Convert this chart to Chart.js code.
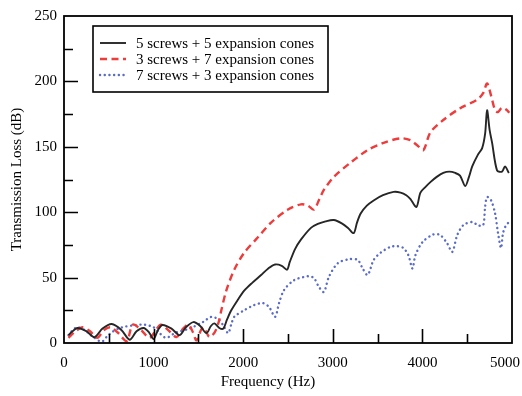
<!DOCTYPE html>
<html>
<head>
<meta charset="utf-8">
<script src="https://cdn.jsdelivr.net/npm/chart.js@4/dist/chart.umd.min.js"></script>
<style>
  html, body { margin: 0; padding: 0; background: #fff; }
  #wrap { width: 522px; height: 396px; }
</style>
</head>
<body>
<div id="wrap"><canvas id="c" width="522" height="396"></canvas></div>
<script>
// Transmission loss spectra for three fastening configurations
const seriesLabels = [
  '5 screws + 5 expansion cones',
  '3 screws + 7 expansion cones',
  '7 screws + 3 expansion cones'
];
const xTitle = 'Frequency (Hz)';
const yTitle = 'Transmission Loss (dB)';

// 5 screws + 5 expansion cones
const freq5x5 = [50, 80, 150, 250, 340, 430, 533, 640, 733, 810, 889, 950, 1000, 1050, 1100, 1200, 1289, 1360, 1444, 1520, 1589, 1640, 1678, 1733, 1778, 1820, 1867, 1940, 2011, 2100, 2200, 2280, 2356, 2430, 2489, 2520, 2580, 2644, 2756, 2833, 2920, 3011, 3100, 3170, 3233, 3270, 3311, 3380, 3456, 3560, 3678, 3756, 3820, 3867, 3933, 3978, 4030, 4089, 4160, 4233, 4300, 4367, 4420, 4478, 4520, 4556, 4620, 4667, 4700, 4722, 4750, 4778, 4833, 4889, 4922, 4965];
const loss5x5 = [6, 8, 11.5, 9, 4.5, 11, 14.5, 10, 2.5, 9, 11.5, 8, 3, 10, 13.8, 11, 6, 12, 16, 13, 7.6, 13, 15, 11.5, 11, 18, 25, 33, 40, 46, 52, 57, 60, 59, 56, 62, 72, 79, 88, 91, 93, 94, 91.5, 88, 84, 92, 99, 105, 109, 113, 115.5, 115, 113, 110, 104, 115, 119, 123, 127, 130, 131, 130, 128, 120, 127, 135, 144, 149, 160, 178, 163, 153, 132, 131, 135, 130];

// 3 screws + 7 expansion cones
const freq3x7 = [50, 130, 210, 290, 370, 450, 520, 600, 700, 767, 860, 956, 1078, 1160, 1256, 1330, 1389, 1440, 1478, 1530, 1560, 1622, 1680, 1722, 1756, 1811, 1900, 2011, 2167, 2311, 2500, 2644, 2722, 2789, 2850, 2900, 3011, 3200, 3389, 3567, 3756, 3867, 3944, 4011, 4089, 4233, 4422, 4611, 4678, 4722, 4767, 4811, 4844, 4889, 4944, 4970];
const loss3x7 = [4, 9, 12, 9, 4, 10, 12, 8, 1.5, 14, 10, 4, 14, 10, 4.6, 11, 14, 8, 2, 10, 12, 4.6, 8, 15, 25, 40, 56, 69, 81, 92, 102, 106, 105, 102, 110, 117, 127, 138, 147.5, 153, 156.5, 155, 151, 147.5, 161, 170.5, 179.5, 186, 191, 198.5, 189, 178, 176.6, 180, 178, 176];

// 7 screws + 3 expansion cones
const freq7x3 = [50, 100, 150, 230, 300, 420, 480, 550, 650, 780, 900, 1000, 1060, 1140, 1250, 1400, 1550, 1644, 1733, 1789, 1833, 1870, 1900, 2011, 2122, 2222, 2289, 2356, 2400, 2456, 2567, 2678, 2733, 2789, 2844, 2900, 2956, 3056, 3178, 3278, 3333, 3389, 3456, 3533, 3644, 3722, 3789, 3844, 3889, 3922, 4000, 4122, 4200, 4278, 4333, 4389, 4456, 4556, 4622, 4678, 4700, 4722, 4767, 4811, 4844, 4878, 4900, 4933, 4960];
const loss7x3 = [6, 10, 12, 10, 6, 1, 5, 9, 12, 13.5, 14, 12, 8, 4, 8, 11, 16, 20, 17.6, 12, 7.6, 15, 20, 25, 29, 30.5, 27.5, 20, 30.5, 40.5, 48, 50.5, 51, 49.7, 43, 39, 50.5, 61, 64, 63.5, 57, 52, 63.5, 69, 73.5, 74, 72.6, 67, 57, 67, 77, 83, 82.5, 76, 69.6, 82.5, 90, 92.5, 90, 90, 104, 111.6, 109, 99, 84, 72.6, 84, 90, 92];

const xTicks = [0, 1000, 2000, 3000, 4000, 5000];
const yTicks = [0, 50, 100, 150, 200, 250];

const serif = "'Liberation Serif', 'Times New Roman', serif";

function toPoints(xs, ys) {
  return xs.map((x, i) => ({ x: x, y: ys[i] }));
}

// Box around the plot with inward major and minor ticks, plus the x labels
const framePlugin = {
  id: 'frame',
  afterDatasetsDraw(chart) {
    const { ctx, chartArea: a, scales, width } = chart;
    ctx.save();
    ctx.strokeStyle = '#000';
    ctx.lineWidth = 1.8;
    ctx.strokeRect(a.left, a.top, a.right - a.left, a.bottom - a.top);
    ctx.lineWidth = 1.6;
    ctx.beginPath();
    for (let v = 500; v < 5000; v += 500) {
      const px = Math.round(scales.x.getPixelForValue(v)) + 0.5;
      const len = v % 1000 === 0 ? 14 : 9;
      ctx.moveTo(px, a.bottom);
      ctx.lineTo(px, a.bottom - len);
    }
    for (let v = 25; v < 250; v += 25) {
      const py = Math.round(scales.y.getPixelForValue(v)) + 0.5;
      const len = v % 50 === 0 ? 14 : 9;
      ctx.moveTo(a.left, py);
      ctx.lineTo(a.left + len, py);
    }
    ctx.stroke();

    // x tick labels, kept inside the canvas at the right edge
    ctx.font = '15px ' + serif;
    ctx.fillStyle = '#000';
    ctx.textAlign = 'center';
    ctx.textBaseline = 'top';
    xTicks.forEach(v => {
      const text = String(v);
      const w = ctx.measureText(text).width;
      const px = Math.min(scales.x.getPixelForValue(v), width - 2 - w / 2);
      ctx.fillText(text, px, a.bottom + 13);
    });

    // x axis title, set slightly left of the plot centre
    ctx.textBaseline = 'middle';
    ctx.fillText(xTitle, a.left + 204, a.bottom + 39);
    ctx.restore();
  }
};

// Legend box drawn inside the plot area
const legendPlugin = {
  id: 'insetLegend',
  afterDraw(chart) {
    const { ctx, chartArea: a } = chart;
    const x0 = a.left + 29, y0 = a.top + 10, w = 235, h = 66;
    ctx.save();
    ctx.fillStyle = '#fff';
    ctx.fillRect(x0, y0, w, h);
    ctx.strokeStyle = '#000';
    ctx.lineWidth = 1.6;
    ctx.strokeRect(x0, y0, w, h);
    ctx.font = '15px ' + serif;
    ctx.textBaseline = 'middle';
    chart.data.datasets.forEach((ds, i) => {
      const cy = y0 + 17 + i * 16;
      ctx.beginPath();
      ctx.strokeStyle = ds.borderColor;
      ctx.lineWidth = ds.borderWidth;
      ctx.lineCap = ds.borderCapStyle || 'butt';
      ctx.setLineDash(ds.borderDash || []);
      ctx.moveTo(x0 + 7, cy);
      ctx.lineTo(x0 + 33, cy);
      ctx.stroke();
      ctx.setLineDash([]);
      ctx.fillStyle = '#000';
      ctx.fillText(ds.label, x0 + 43, cy + 1);
    });
    ctx.restore();
  }
};

new Chart(document.getElementById('c'), {
  type: 'line',
  data: {
    datasets: [
      {
        label: seriesLabels[0],
        data: toPoints(freq5x5, loss5x5),
        borderColor: '#262626',
        borderWidth: 1.9,
        tension: 0.3,
        pointRadius: 0
      },
      {
        label: seriesLabels[1],
        data: toPoints(freq3x7, loss3x7),
        borderColor: '#ee3b3b',
        borderWidth: 2.4,
        borderDash: [7, 4.5],
        tension: 0.3,
        pointRadius: 0
      },
      {
        label: seriesLabels[2],
        data: toPoints(freq7x3, loss7x3),
        borderColor: '#5a6cc8',
        borderWidth: 2.4,
        borderDash: [0.1, 4.6],
        borderCapStyle: 'round',
        tension: 0.3,
        pointRadius: 0
      }
    ]
  },
  options: {
    responsive: false,
    animation: false,
    devicePixelRatio: 1,
    layout: { autoPadding: false, padding: { left: 0, right: 10, top: 16, bottom: 0 } },
    plugins: { legend: { display: false }, tooltip: { enabled: false } },
    scales: {
      x: {
        type: 'linear',
        min: 0,
        max: 5000,
        afterFit: s => { s.height = 53; s.paddingLeft = 0; s.paddingRight = 0; },
        afterBuildTicks: s => { s.ticks = xTicks.map(v => ({ value: v })); },
        grid: { display: false, drawTicks: false },
        border: { display: false },
        ticks: { display: false },
        title: { display: false }
      },
      y: {
        type: 'linear',
        min: 0,
        max: 250,
        afterFit: s => { s.width = 64; s.paddingTop = 0; s.paddingBottom = 0; },
        afterBuildTicks: s => { s.ticks = yTicks.map(v => ({ value: v })); },
        grid: { display: false, drawTicks: false },
        border: { display: false },
        ticks: {
          color: '#000',
          padding: 7,
          font: { family: serif, size: 15 },
          callback: v => String(v)
        },
        title: {
          display: true,
          text: yTitle,
          color: '#000',
          font: { family: serif, size: 15 },
          padding: { top: 8, bottom: 0 }
        }
      }
    }
  },
  plugins: [framePlugin, legendPlugin]
});
</script>
</body>
</html>
